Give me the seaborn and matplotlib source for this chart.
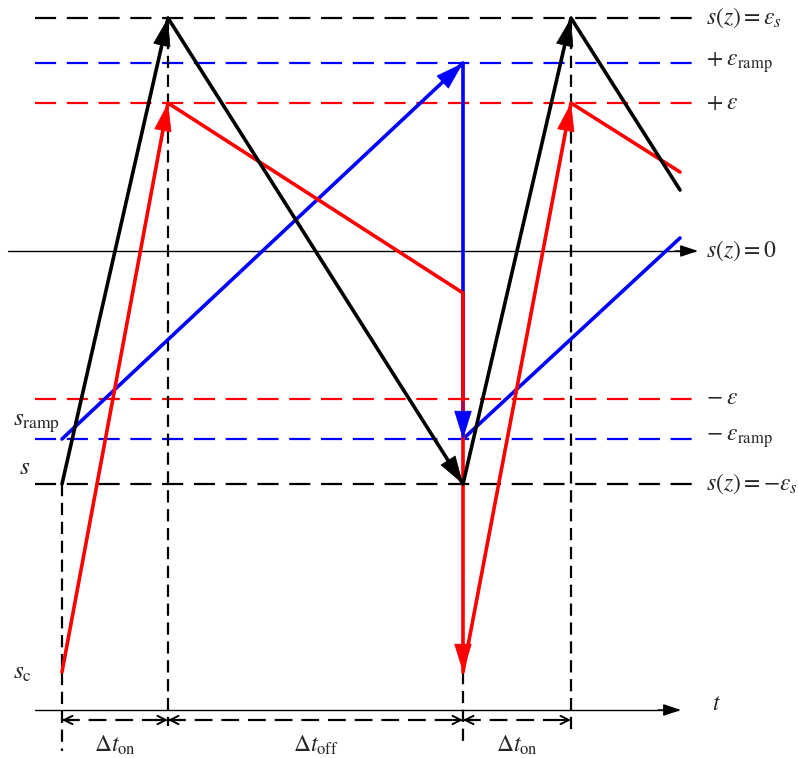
import numpy as np
import pandas as pd
import matplotlib
matplotlib.use("Agg")
import matplotlib.pyplot as plt
import seaborn as sns

sns.set_theme(style="white")
plt.rcParams["font.family"] = ["Liberation Serif", "DejaVu Serif"]
plt.rcParams["mathtext.fontset"] = "stix"

# switching instants and end of the time window
t_switch = [0.62, 1.68, 4.63, 5.71]
t_end = 6.80

# sliding-surface levels
eps_s = 2.33
eps_ramp = 1.88
eps = 1.48
s_c = -4.21
t_axis_level = -4.59
dt_level = -4.69

# trajectory values
black_t = [0.62, 1.68, 4.63, 5.71, 6.80]
black_s = [-2.33, 2.33, -2.33, 2.33, 0.61]
red_t = [0.62, 1.68, 4.63, 4.63, 5.71, 6.80]
red_s = [-4.21, 1.48, -0.42, -4.21, 1.48, 0.79]
blue_t = [0.62, 4.63, 4.63, 6.80]
blue_s = [-1.88, 1.88, -1.88, 0.13]

level_vals = [eps_s, eps_ramp, eps, -eps, -eps_ramp, -eps_s]
level_cols = ["black", "blue", "red", "red", "blue", "black"]
level_labels = [r"$s\left(z\right)=\varepsilon_s$",
                r"$+\;\varepsilon_{\rm ramp}$",
                r"$+\;\varepsilon$",
                r"$-\;\varepsilon$",
                r"$-\;\varepsilon_{\rm ramp}$",
                r"$s\left(z\right)=-\varepsilon_s$"]

fig = plt.figure(figsize=(7.98, 7.58), dpi=100)
ax = fig.add_axes([0, 0, 1, 1])
ax.set_xlim(0, 7.98)
ax.set_ylim(2.51 - 7.58, 2.51)
ax.axis("off")


def seg(ts, ss, color, lw, ls="-"):
    d = pd.DataFrame({"t": ts, "s": ss})
    sns.lineplot(data=d, x="t", y="s", ax=ax, color=color, lw=lw,
                 linestyle=ls, sort=False, estimator=None)


# dashed reference levels
for v, c in zip(level_vals, level_cols):
    seg([0.35, 7.00], [v, v], c, 1.6, (0, (9.5, 4.8)))

# vertical dashed markers at switching instants
vlines = [(t_switch[0], -eps_s, -5.0), (t_switch[1], eps_s, -4.75),
          (t_switch[2], s_c, -4.95), (t_switch[3], eps_s, -4.80)]
for x, y0, y1 in vlines:
    seg([x, x], [y0, y1], "black", 1.6, (0, (5.5, 3)))

# axes: s(z)=0 and t
for x0, x1, y in [(0.08, 6.95, 0.0), (0.35, 6.78, t_axis_level)]:
    seg([x0, x1], [y, y], "black", 1.0)
    ax.annotate("", xy=(x1 + 0.03, y), xytext=(x1 - 0.2, y),
                arrowprops=dict(arrowstyle="-|>,head_length=0.9,head_width=0.3",
                                color="black", lw=1.0, shrinkA=0, shrinkB=0))

# interval markers
for a, b in zip(t_switch[:-1], t_switch[1:]):
    seg([a, b], [dt_level, dt_level], "black", 1.6, (0, (8, 4)))
    for tip, tail in [(a, a + 0.1), (b, b - 0.1)]:
        ax.annotate("", xy=(tip, dt_level), xytext=(tail, dt_level),
                    arrowprops=dict(arrowstyle="->,head_length=0.5,head_width=0.25",
                                    color="black", lw=1.4, shrinkA=0, shrinkB=0))


def path(ts, ss, color, arrows):
    seg(ts, ss, color, 2.6)
    for i in arrows:
        x0, y0, x1, y1 = ts[i], ss[i], ts[i + 1], ss[i + 1]
        ax.annotate("", xy=(x1, y1), xytext=(x0 + 0.9 * (x1 - x0), y0 + 0.9 * (y1 - y0)),
                    arrowprops=dict(arrowstyle="-|>,head_length=1.6,head_width=0.5",
                                    color=color, lw=0.5, shrinkA=0, shrinkB=0))


path(blue_t, blue_s, "blue", [0, 1])
path(red_t, red_s, "red", [0, 2, 3])
path(black_t, black_s, "black", [0, 1, 2])

# right-hand level labels
fs = 17
for v, lab in zip(level_vals, level_labels):
    ax.text(7.06, v, lab, fontsize=fs, va="center", ha="left")
ax.text(7.06, 0.0, r"$s\left(z\right)=0$", fontsize=fs, va="center", ha="left")
ax.text(7.12, t_axis_level + 0.06, r"$t$", fontsize=fs, va="center", ha="left")

# left-hand labels
ax.text(0.13, -1.73, r"$s_{\rm ramp}$", fontsize=18, va="center", ha="left")
ax.text(0.19, -2.17, r"$s$", fontsize=18, va="center", ha="left")
ax.text(0.13, -4.22, r"$s_{\rm c}$", fontsize=18, va="center", ha="left")

# interval labels
for a, b, lab in zip(t_switch[:-1], t_switch[1:],
                     [r"$\Delta t_{\rm on}$", r"$\Delta t_{\rm off}$", r"$\Delta t_{\rm on}$"]):
    ax.text((a + b) / 2, -4.94, lab, fontsize=17, va="center", ha="center")

fig.savefig("out.png", dpi=100)
